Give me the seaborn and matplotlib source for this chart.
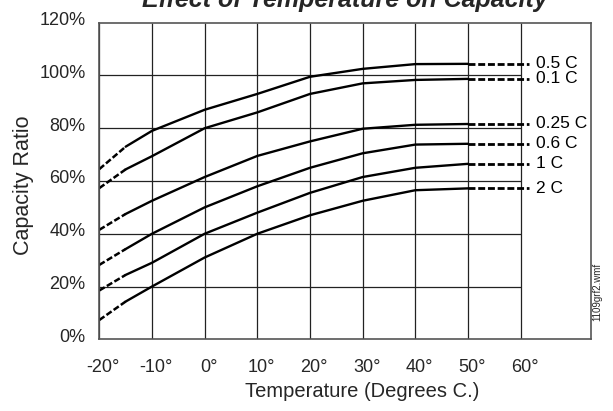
import matplotlib
matplotlib.use('Agg')
import matplotlib.pyplot as plt
import matplotlib.transforms as mtransforms
import pandas as pd
import seaborn as sns

# Capacity ratio (%)
temps = [-20, -15, -10, 0, 10, 20, 30, 40, 50]
rate_labels = ['0.5 C', '0.1 C', '0.25 C', '0.6 C', '1 C', '2 C']
cap_05 = [64.5, 73.0, 79.0, 87.0, 93.0, 99.5, 102.5, 104.3, 104.4]
cap_01 = [57.3, 64.4, 69.4, 80.0, 86.0, 93.0, 97.0, 98.3, 98.7]
cap_025 = [41.5, 47.5, 52.5, 61.5, 69.5, 75.0, 79.8, 81.3, 81.6]
cap_06 = [28.2, 34.2, 40.0, 50.0, 58.0, 65.0, 70.5, 73.8, 74.1]
cap_1 = [18.5, 24.4, 29.0, 40.0, 48.0, 55.5, 61.5, 65.0, 66.5]
cap_2 = [7.3, 14.3, 20.0, 31.0, 40.0, 47.0, 52.5, 56.5, 57.2]
ext_temps = [50, 61.5]   # dashed run-out to the labels

x_ticks = [-20, -10, 0, 10, 20, 30, 40, 50, 60]
x_tick_labels = ['-20°', '-10°', '0°', '10°', '20°', '30°', '40°', '50°', '60°']
y_ticks = [0, 20, 40, 60, 80, 100, 120]
y_tick_labels = ['0%', '20%', '40%', '60%', '80%', '100%', '120%']

all_caps = [cap_05, cap_01, cap_025, cap_06, cap_1, cap_2]

sns.set_theme(style='white')
plt.rcParams['font.family'] = ['Liberation Sans', 'DejaVu Sans']

fig = plt.figure(figsize=(6.13, 4.11), dpi=100)
ax = fig.add_axes([0.162, 0.1745, 0.8017, 0.7703])

dash = (0, (2.5, 1.0))
for label, caps in zip(rate_labels, all_caps):
    df = pd.DataFrame({'temp': temps, 'cap': caps})
    cold = df[df['temp'] <= -15]
    warm = df[df['temp'] >= -15]
    sns.lineplot(data=warm, x='temp', y='cap', ax=ax, color='black', lw=1.7)
    sns.lineplot(data=cold, x='temp', y='cap', ax=ax, color='black', lw=1.8,
                 linestyle=dash)
    ext = pd.DataFrame({'temp': ext_temps, 'cap': [caps[-1]] * len(ext_temps)})
    sns.lineplot(data=ext, x='temp', y='cap', ax=ax, color='black', lw=2.0,
                 linestyle=dash)
    ax.text(ext_temps[-1] + 1.4, caps[-1], label, fontsize=12.5, va='center',
            ha='left', color='black')

# grid: vertical full height, horizontal only up to 60 degrees
ax.vlines(x_ticks, y_ticks[0], y_ticks[-1], color='#222222', lw=0.9, zorder=0)
ax.hlines(y_ticks[1:-1], x_ticks[0], x_ticks[-1], color='#222222', lw=0.9, zorder=0)

ax.set_xlim(-20, 73.3)
ax.set_ylim(0, 120)
ax.set_xticks(x_ticks)
ax.set_xticklabels(x_tick_labels, fontsize=13)
ax.set_yticks(y_ticks)
ax.set_yticklabels(y_tick_labels, fontsize=13)
ax.tick_params(axis='x', length=0, pad=14)
ax.tick_params(axis='y', length=0, pad=10)

# labels sit a little right of / above their grid lines
xoff = mtransforms.ScaledTranslation(4 / 100, 0, fig.dpi_scale_trans)
for t in ax.get_xticklabels():
    t.set_transform(t.get_transform() + xoff)
yoff = mtransforms.ScaledTranslation(0, 4 / 100, fig.dpi_scale_trans)
for t in ax.get_yticklabels():
    t.set_transform(t.get_transform() + yoff)

ax.set_xlabel('')
ax.set_ylabel('')
fig.text(24 / 613, 1 - 185 / 411, 'Capacity Ratio', rotation=90, fontsize=15.5,
         ha='center', va='center')
xlab_tr = mtransforms.blended_transform_factory(ax.transData, fig.transFigure)
ax.text(30, 14 / 411, 'Temperature (Degrees C.)', fontsize=14.5, ha='center',
        va='baseline', transform=xlab_tr)

for s in ax.spines.values():
    s.set_visible(True)
    s.set_color('#555555')
    s.set_linewidth(1.2)

fig.text(0.5625, 1 - 7 / 411, 'Effect of Temperature on Capacity', fontsize=18,
         fontweight='bold', fontstyle='italic', ha='center', va='baseline')
fig.text(597 / 613, 1 - 291.5 / 411, '1109grf2.wmf', rotation=90, fontsize=7,
         ha='center', va='center')

fig.savefig('out.png', dpi=100)
